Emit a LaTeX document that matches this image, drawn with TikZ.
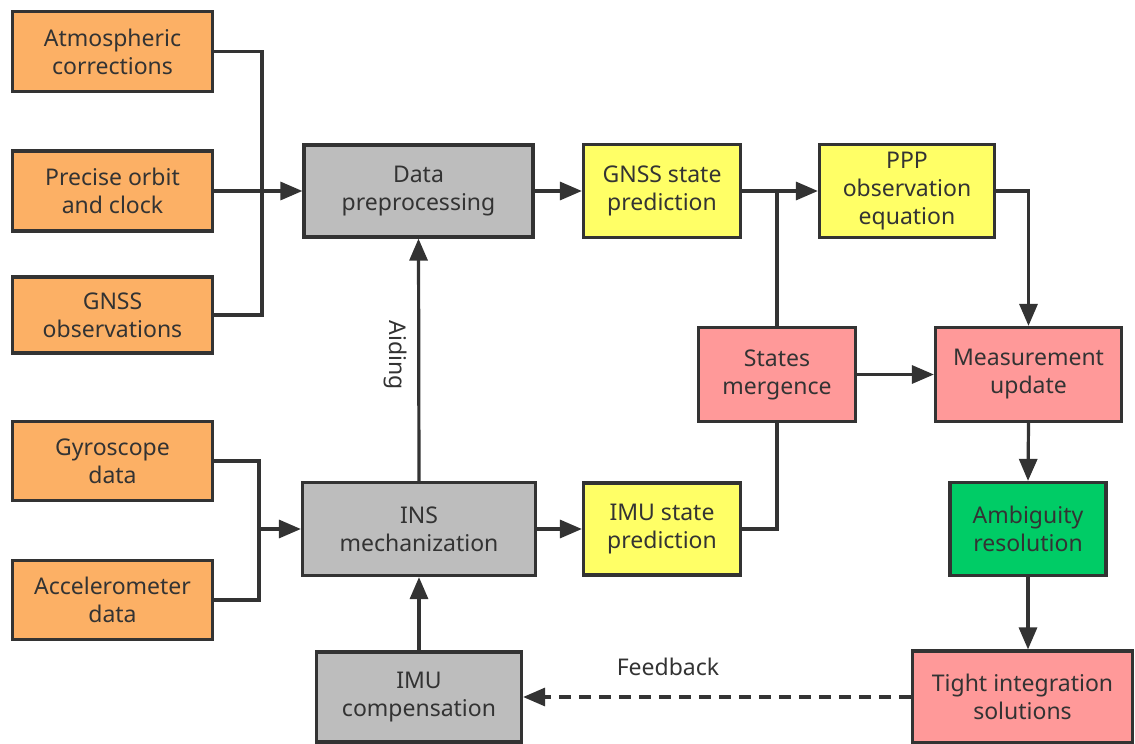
\documentclass[tikz,border=0pt]{standalone}
\usepackage{fontspec}
\setmainfont{Noto Sans}
\usetikzlibrary{arrows.meta}
\definecolor{orng}{HTML}{FCB065}
\definecolor{gry}{HTML}{BDBDBD}
\definecolor{ylw}{HTML}{FFFF66}
\definecolor{pnk}{HTML}{FF9999}
\definecolor{grn}{HTML}{00CC66}
\definecolor{bord}{HTML}{333333}
\definecolor{txt}{HTML}{333333}
\begin{document}
\begin{tikzpicture}[x=1pt,y=-1pt,
  box/.style={draw=bord, line width=3.2pt, inner sep=0pt, align=center, text=txt,
    font=\fontsize{23}{28}\selectfont},
  ln/.style={draw=bord, line width=3.2pt},
  arr/.style={ln, -{Triangle[length=22pt,width=18pt]}},
  lbl/.style={text=txt, font=\fontsize{23}{28}\selectfont, inner sep=0pt}]
\useasboundingbox (0,0) rectangle (1135,744);
% left inputs
\node[box, fill=orng, minimum width=200pt, minimum height=80pt] (atm) at (112.5,51.5) {Atmospheric\\corrections};
\node[box, fill=orng, minimum width=200pt, minimum height=80pt] (orb) at (112.5,191) {Precise orbit\\and clock};
\node[box, fill=orng, minimum width=200pt, minimum height=76pt] (gobs) at (112.5,315) {GNSS\\observations};
\node[box, fill=orng, minimum width=200pt, minimum height=79pt] (gyro) at (112.5,461) {Gyroscope\\data};
\node[box, fill=orng, minimum width=200pt, minimum height=79pt] (acc) at (112.5,600) {Accelerometer\\data};
% gray
\node[box, fill=gry, minimum width=229pt, minimum height=92pt] (dp) at (418.5,191) {Data\\preprocessing};
\node[box, fill=gry, minimum width=233pt, minimum height=93pt] (ins) at (419,529) {INS\\mechanization};
\node[box, fill=gry, minimum width=205pt, minimum height=90pt] (imc) at (419,697) {IMU\\compensation};
% yellow
\node[box, fill=ylw, minimum width=157pt, minimum height=93pt] (gsp) at (662,191) {GNSS state\\prediction};
\node[box, fill=ylw, minimum width=175pt, minimum height=93pt] (ppp) at (907,191) {PPP\\observation\\equation};
\node[box, fill=ylw, minimum width=157pt, minimum height=92pt] (isp) at (662,529) {IMU state\\prediction};
% pink / green
\node[box, fill=pnk, minimum width=157pt, minimum height=94pt] (sm) at (777,374.5) {States\\mergence};
\node[box, fill=pnk, minimum width=186pt, minimum height=94pt] (mu) at (1028.5,374.5) {Measurement\\update};
\node[box, fill=grn, minimum width=156pt, minimum height=93pt] (amb) at (1028,529) {Ambiguity\\resolution};
\node[box, fill=pnk, minimum width=220pt, minimum height=92pt] (tis) at (1022.5,697) {Tight integration\\solutions};
% connectors
\coordinate (j1) at (262,191);
\draw[ln] (atm.east) -| (j1);
\draw[ln] (gobs.east) -| (j1);
\draw[arr] (orb.east) -- (dp.west);
\coordinate (j2) at (259,529);
\draw[ln] (gyro.east) -| (j2);
\draw[ln] (acc.east) -| (j2);
\draw[arr] (j2) -- (ins.west);
\draw[arr] (ins.north) -- (dp.south);
\node[lbl, rotate=-90] (aid) at (395,355) {Aiding};
\draw[arr] (imc.north) -- (ins.south);
\draw[arr] (dp.east) -- (gsp.west);
\draw[arr] (gsp.east) -- (ppp.west);
\coordinate (j3) at (777,191);
\draw[ln] (j3) -- (sm.north);
\draw[ln] (isp.east) -| (sm.south);
\draw[arr] (ins.east) -- (isp.west);
\draw[arr] (sm.east) -- (mu.west);
\draw[arr] (ppp.east) -| (mu.north);
\draw[arr] (mu.south) -- (amb.north);
\draw[arr] (amb.south) -- (amb.south |- tis.north);
\draw[arr, dash pattern=on 12pt off 8pt] (tis.west) -- (imc.east);
\node[lbl] (fb) at (668,667) {Feedback};
\end{tikzpicture}
\end{document}
